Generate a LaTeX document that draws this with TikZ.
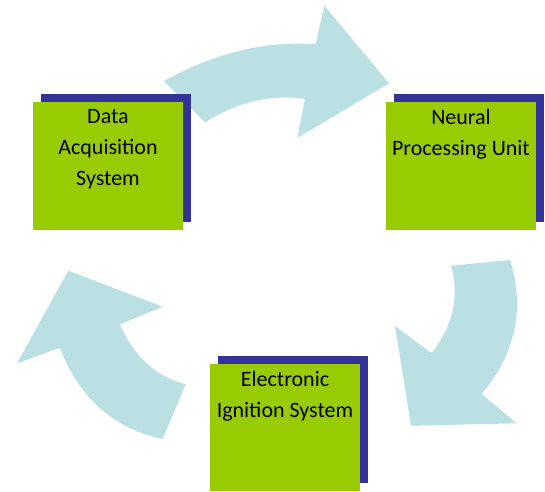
\documentclass[tikz,border=0pt]{standalone}
\usepackage{fontspec}
\setmainfont{Carlito}
\usetikzlibrary{shadows}
\definecolor{boxgreen}{HTML}{99CC00}
\definecolor{shadowblue}{HTML}{333399}
\definecolor{arrowblue}{HTML}{BBE0E3}
\begin{document}
\begin{tikzpicture}[x=1pt,y=-1pt,
  cyclearrow/.style={fill=arrowblue, draw=none},
  box/.style={rectangle, fill=boxgreen, draw=none, minimum width=150pt, minimum height=128pt, inner sep=0pt,
    drop shadow={shadow xshift=8pt, shadow yshift=8pt, fill=shadowblue, opacity=1}},
  boxtext/.style={anchor=north, align=center, inner sep=0pt, text=black, font=\fontsize{22}{31}\selectfont}]
\useasboundingbox (0,0) rectangle (545,491);

% top arrow
\fill[cyclearrow] (164,81) .. controls (214.8,52.8) and (265.3,40.6) .. (315.7,44.3)
  -- (324.3,5.7) -- (389,83.3) -- (297.3,138) -- (305,99)
  .. controls (271.7,93.9) and (238.3,101.7) .. (205,122.3) -- cycle;
% right arrow
\fill[cyclearrow] (451,265.7) -- (510,260) .. controls (525.2,308.7) and (515.7,353.3) .. (481.7,394)
  -- (516.7,423.3) -- (411,425.7) -- (395,326) -- (431.7,353.3)
  .. controls (453.2,324.8) and (459.7,295.6) .. (451,265.7) -- cycle;
% left arrow
\fill[cyclearrow] (185.7,384.3) -- (162.7,439) .. controls (113.3,428.5) and (79.1,398.1) .. (60,347.7)
  -- (17,363.3) -- (68.3,270.7) -- (162.7,306.7) -- (120,324.3)
  .. controls (133.7,356.3) and (155.6,376.3) .. (185.7,384.3) -- cycle;

\node[box] (das) at (108,166) {};
\node[box] (npu) at (461,166) {};
\node[box, minimum height=127pt] (eis) at (285,427.5) {};

\node[boxtext] (dast) at ([yshift=-7pt]das.north) {Data\\Acquisition\\System};
\node[boxtext] (npit) at ([yshift=-7pt]npu.north) {Neural\\Processing Unit};
\node[boxtext] (eist) at ([yshift=-7.5pt]eis.north) {Electronic\\Ignition System};
\end{tikzpicture}
\end{document}
